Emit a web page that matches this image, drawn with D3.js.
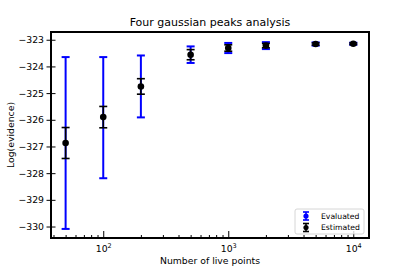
<!DOCTYPE html>
<html>
<head>
<meta charset="utf-8">
<script src="https://cdn.jsdelivr.net/npm/d3@7"></script>
<style>
  body { margin: 0; background: #fff; }
  svg text { font-family: 'DejaVu Sans', sans-serif; }
</style>
</head>
<body>
<div id="chart"></div>
<script>
// Données
const livePoints   = [50, 100, 200, 500, 1000, 2000, 5000, 10000];
const evaluated    = [-326.87, -325.92, -324.75, -323.56, -323.31, -323.22, -323.16, -323.15];
const evaluatedErr = [3.22, 2.27, 1.16, 0.31, 0.19, 0.13, 0.06, 0.04];
const estimated    = [-326.87, -325.90, -324.75, -323.56, -323.31, -323.22, -323.16, -323.15];
const estimatedErr = [0.58, 0.40, 0.29, 0.19, 0.12, 0.08, 0.04, 0.03];
const yTicks       = [-323, -324, -325, -326, -327, -328, -329, -330];
const xTicks       = [100, 1000, 10000];

const W = 409, H = 273;
const m = { top: 32, right: 40, bottom: 35, left: 51 };
const w = W - m.left - m.right;
const h = H - m.top - m.bottom;
const FS = '9.3px';

const svg = d3.select('#chart').append('svg').attr('width', W).attr('height', H);
const g = svg.append('g').attr('transform', `translate(${m.left},${m.top})`);

const x = d3.scaleLog().domain([38.2, 13360]).range([0, w]);
const y = d3.scaleLinear().domain([-330.43, -322.71]).range([h, 0]);

// Axe Y (ticks inout)
const yAxis = g.append('g')
  .call(d3.axisLeft(y).tickValues(yTicks).tickSize(4.5).tickPadding(2.5)
    .tickFormat(d => '\u2212' + Math.abs(d)));
yAxis.select('.domain').remove();
yAxis.selectAll('line').attr('x2', -4.5).attr('x1', 4.5).attr('stroke-width', 1);
yAxis.selectAll('text').style('font-size', FS).attr('fill', '#000');

// Axe X (ticks vers l'intérieur)
const minor = [];
for (let p = 1; p <= 4; p++) for (let k = 2; k <= 9; k++) {
  const v = k * Math.pow(10, p);
  if (v >= 38.2 && v <= 13360) minor.push(v);
}
const xMinor = g.append('g').attr('transform', `translate(0,${h})`)
  .call(d3.axisBottom(x).tickValues(minor).tickSize(-3).tickFormat(''));
xMinor.select('.domain').remove();

const xAxis = g.append('g').attr('transform', `translate(0,${h})`)
  .call(d3.axisBottom(x).tickValues(xTicks).tickSize(-7).tickFormat(''));
xAxis.select('.domain').remove();
xAxis.selectAll('.tick').append('text')
  .attr('y', 14).attr('fill', '#000').attr('text-anchor', 'middle')
  .style('font-size', FS)
  .each(function(d) {
    const t = d3.select(this);
    t.append('tspan').text('10');
    t.append('tspan').attr('dy', -4).style('font-size', '6.5px').text(Math.round(Math.log10(d)));
  });

// Barres d'erreur
function drawErrors(vals, errs, color, sw, capW) {
  const grp = g.append('g').attr('stroke', color).attr('stroke-width', sw);
  livePoints.forEach((n, i) => {
    const cx = x(n), y0 = y(vals[i] - errs[i]), y1 = y(vals[i] + errs[i]);
    grp.append('line').attr('x1', cx).attr('x2', cx).attr('y1', y0).attr('y2', y1);
    grp.append('line').attr('x1', cx - capW / 2).attr('x2', cx + capW / 2).attr('y1', y0).attr('y2', y0);
    grp.append('line').attr('x1', cx - capW / 2).attr('x2', cx + capW / 2).attr('y1', y1).attr('y2', y1);
  });
}
drawErrors(evaluated, evaluatedErr, '#0000ff', 2, 8);
drawErrors(estimated, estimatedErr, '#000', 1.6, 8);

g.append('g').selectAll('circle').data(livePoints).join('circle')
  .attr('cx', d => x(d)).attr('cy', (d, i) => y(estimated[i])).attr('r', 3.3).attr('fill', '#000');

// Cadre
g.append('rect').attr('width', w).attr('height', h)
  .attr('fill', 'none').attr('stroke', '#000').attr('stroke-width', 2);

// Légende
const lg = g.append('g').attr('transform', `translate(${w - 74},${h - 29})`);
lg.append('rect').attr('width', 69).attr('height', 25).attr('rx', 2)
  .attr('fill', '#fff').attr('fill-opacity', 0.8).attr('stroke', '#ccc').attr('stroke-width', 0.8);
[['Evaluated', '#0000ff'], ['Estimated', '#000']].forEach(([label, c], i) => {
  const yy = 7 + i * 11.5;
  const it = lg.append('g').attr('stroke', c).attr('stroke-width', 1.6);
  it.append('line').attr('x1', 11).attr('x2', 11).attr('y1', yy - 4).attr('y2', yy + 4);
  it.append('line').attr('x1', 8).attr('x2', 14).attr('y1', yy - 4).attr('y2', yy - 4);
  it.append('line').attr('x1', 8).attr('x2', 14).attr('y1', yy + 4).attr('y2', yy + 4);
  lg.append('circle').attr('cx', 11).attr('cy', yy).attr('r', 2.6).attr('fill', c);
  lg.append('text').attr('x', 26).attr('y', yy + 2.7).style('font-size', '7.7px').text(label);
});

// Titres
svg.append('text').attr('x', m.left + w / 2).attr('y', 26).attr('text-anchor', 'middle')
  .style('font-size', '11px').text('Four gaussian peaks analysis');
svg.append('text').attr('x', m.left + w / 2).attr('y', 264).attr('text-anchor', 'middle')
  .style('font-size', FS).text('Number of live points');
svg.append('text').attr('transform', `translate(14,${m.top + h / 2}) rotate(-90)`)
  .attr('text-anchor', 'middle').style('font-size', FS).text('Log(evidence)');
</script>
</body>
</html>
